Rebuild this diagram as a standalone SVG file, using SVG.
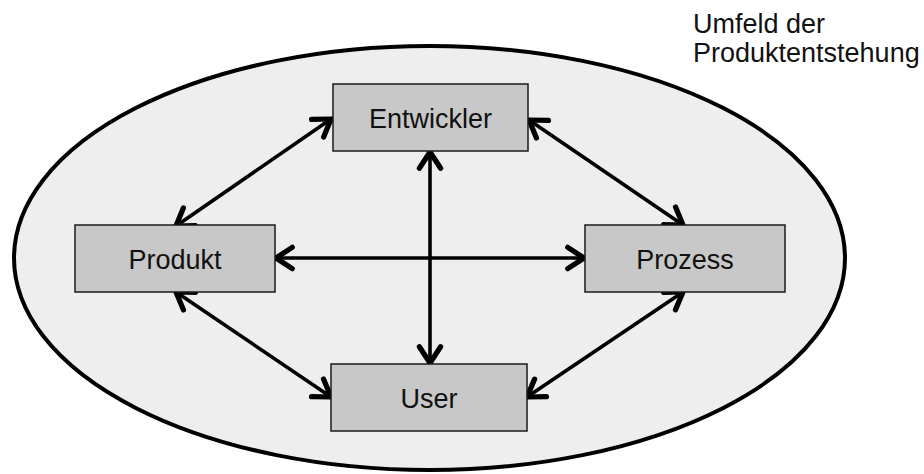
<svg xmlns="http://www.w3.org/2000/svg" width="924" height="474" viewBox="0 0 924 474">
<style>
.node rect{fill:#c8c8c8;stroke:#1a1a1a;stroke-width:1.5}
text{font-family:"Liberation Sans",Arial,sans-serif;font-size:27px;fill:#111}
.node text{text-anchor:middle}
.conn{fill:none;stroke:#000;stroke-width:3.6;marker-start:url(#ah);marker-end:url(#ah)}
</style>
<defs>
<marker id="ah" markerUnits="userSpaceOnUse" markerWidth="30" markerHeight="30" refX="0" refY="0" viewBox="-16 -12 20 24" orient="auto-start-reverse" overflow="visible">
<path d="M-13,-8.5 L0,0 L-13,8.5" fill="none" stroke="#000" stroke-width="4.2" stroke-linecap="round" stroke-linejoin="round"/>
</marker>
</defs>
<g id="umfeld">
<ellipse cx="429.5" cy="258" rx="415.5" ry="212" fill="#eeeeee" stroke="#000" stroke-width="4"/>
<text x="693" y="33">Umfeld der</text>
<text x="693" y="62">Produktentstehung</text>
</g>
<g id="connectors">
<line class="conn" x1="331" y1="119" x2="176" y2="226"/>
<line class="conn" x1="529" y1="120" x2="683" y2="225"/>
<line class="conn" x1="176" y1="292" x2="331" y2="397"/>
<line class="conn" x1="683" y1="292" x2="527" y2="397"/>
<line class="conn" x1="276" y1="258" x2="584" y2="258"/>
<line class="conn" x1="430" y1="152" x2="430" y2="363"/>
</g>
<g id="entwickler" class="node">
<rect x="333" y="84" width="195" height="67"/>
<text x="430.5" y="128">Entwickler</text>
</g>
<g id="produkt" class="node">
<rect x="75" y="225" width="200" height="67"/>
<text x="175" y="269">Produkt</text>
</g>
<g id="prozess" class="node">
<rect x="585" y="225" width="200" height="67"/>
<text x="685" y="269">Prozess</text>
</g>
<g id="user" class="node">
<rect x="331" y="364" width="196" height="67"/>
<text x="429" y="408">User</text>
</g>
</svg>
